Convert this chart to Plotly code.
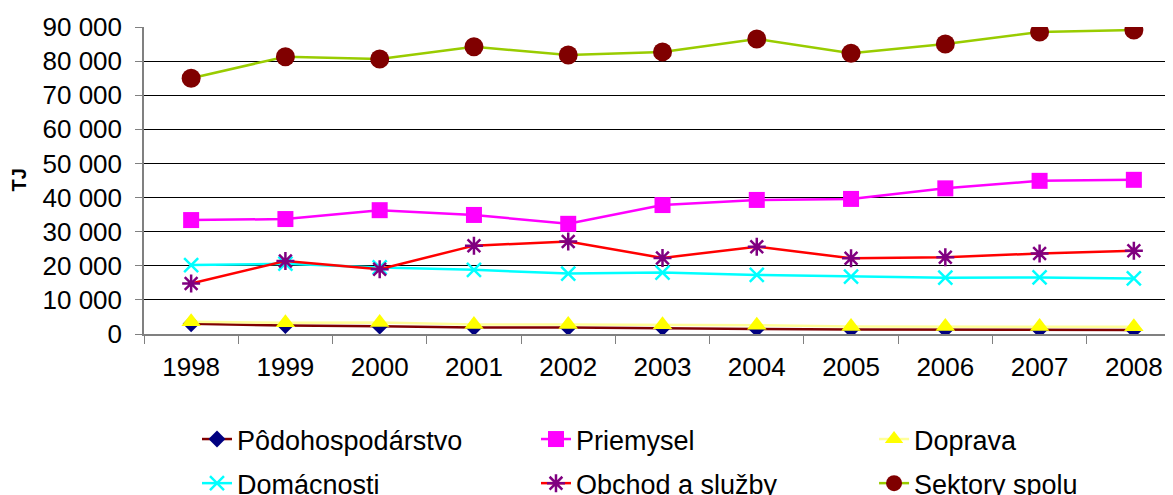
import plotly.graph_objects as go

years = ["1998", "1999", "2000", "2001", "2002", "2003", "2004", "2005", "2006", "2007", "2008"]

podohospodarstvo = [3000, 2500, 2300, 1900, 1900, 1800, 1500, 1300, 1300, 1300, 1200]
priemysel = [33400, 33700, 36300, 34900, 32300, 37800, 39300, 39600, 42700, 44900, 45200]
doprava = [3600, 3300, 3400, 2800, 2800, 2700, 2600, 2200, 2200, 2200, 2100]
domacnosti = [20200, 20600, 19500, 18800, 17700, 18000, 17300, 16800, 16500, 16600, 16300]
obchod = [14800, 21400, 19000, 25900, 27100, 22300, 25600, 22200, 22500, 23600, 24400]
sektory = [75000, 81300, 80600, 84200, 81800, 82700, 86500, 82300, 85000, 88500, 89100]

y_tickvals = [0, 10000, 20000, 30000, 40000, 50000, 60000, 70000, 80000, 90000]
y_ticktext = ["0", "10 000", "20 000", "30 000", "40 000", "50 000", "60 000", "70 000", "80 000", "90 000"]

series = [
    ("Pôdohospodárstvo", podohospodarstvo, "#800000",
     dict(symbol="diamond", color="#000080", size=13), "legend"),
    ("Priemysel", priemysel, "#FF00FF",
     dict(symbol="square", color="#FF00FF", size=16), "legend2"),
    ("Doprava", doprava, "#FFFF99",
     dict(symbol="triangle-up", color="#FFFF00", size=17), "legend3"),
    ("Domácnosti", domacnosti, "#00FFFF",
     dict(symbol="x-thin", color="#00FFFF", size=14, line=dict(color="#00FFFF", width=2.5)), "legend"),
    ("Obchod a služby", obchod, "#FF0000",
     dict(symbol="asterisk", color="#800080", size=15, line=dict(color="#800080", width=2.5)), "legend2"),
    ("Sektory spolu", sektory, "#99CC00",
     dict(symbol="circle", color="#800000", size=19), "legend3"),
]

fig = go.Figure()
for name, vals, lc, mk, lg in series:
    fig.add_trace(go.Scatter(
        x=years, y=vals, name=name, mode="lines+markers",
        line=dict(color=lc, width=2.5), marker=mk,
        legend=lg, legendgroup=name,
    ))

font_family = "Liberation Sans, Arial, sans-serif"

leg_common = dict(
    orientation="v", xanchor="left", y=-0.2638, yanchor="top",
    font=dict(size=27), tracegroupgap=6, bgcolor="rgba(0,0,0,0)",
)

fig.update_layout(
    width=1173, height=495,
    margin=dict(l=136, r=0, t=19, b=169, autoexpand=False),
    plot_bgcolor="white", paper_bgcolor="white",
    font=dict(family=font_family, size=26, color="black"),
    showlegend=True,
    legend=dict(x=0.0511, **leg_common),
    legend2=dict(x=0.378, **leg_common),
    legend3=dict(x=0.704, **leg_common),
    xaxis=dict(
        type="category", range=[-0.5, 10.5],
        showline=True, linecolor="#808080", linewidth=1.5,
        ticks="outside", tickson="boundaries", ticklen=8, tickcolor="#808080",
        showgrid=False, ticklabelstandoff=9,
        tickfont=dict(size=26),
    ),
    yaxis=dict(
        range=[0, 90000], tickvals=y_tickvals, ticktext=y_ticktext,
        showgrid=True, gridcolor="black", gridwidth=1,
        showline=True, linecolor="#808080", linewidth=1.5,
        ticks="outside", ticklen=7, tickcolor="#808080",
        zeroline=False, ticklabelstandoff=8,
        tickfont=dict(size=26),
    ),
    annotations=[dict(
        text="<b>TJ</b>", xref="paper", yref="paper", x=-0.1215, y=0.5,
        xanchor="center", yanchor="middle", textangle=-90, showarrow=False,
        font=dict(size=20, family=font_family),
    )],
)

fig.write_html("out.html")
